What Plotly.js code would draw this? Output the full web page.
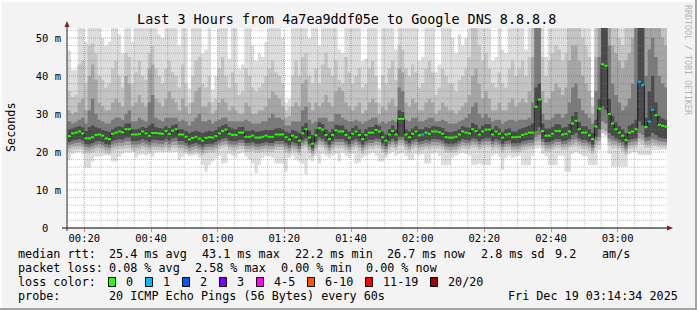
<!DOCTYPE html>
<html><head><meta charset="utf-8">
<script src="https://cdn.plot.ly/plotly-3.0.1.min.js"></script>
<style>html,body{margin:0;padding:0;background:#f3f3f3;}#chart{width:697px;height:310px;}</style>
</head><body><div id="chart"></div>
<script>
// ---- data: one value per minute, 00:15 .. 03:14 (milliseconds) ----
const median = [
24.2,24.9,25.1,25.4,24.9,23.6,23.6,23.9,24.5,24.6,24.3,23.6,23.4,24.8,25.1,25.4,25.2,26.0,26.0,24.6,24.6,24.7,25.4,24.9,24.3,25.0,25.0,24.9,24.8,25.5,24.8,25.6,26.0,24.6,24.6,24.0,23.3,23.7,24.0,23.5,23.0,23.7,23.9,23.8,24.2,
24.9,25.5,25.9,24.8,24.5,24.5,25.1,25.1,24.0,24.0,24.3,23.8,23.8,24.0,24.3,24.0,24.0,24.6,24.6,24.6,23.9,23.3,24.3,23.9,23.0,24.9,26.0,23.8,22.2,24.4,26.3,25.9,24.5,23.4,24.5,25.7,25.4,25.4,24.5,23.8,24.8,25.4,24.5,23.4,24.5,
25.1,25.1,25.8,25.4,23.9,23.0,24.6,25.5,24.6,28.7,28.7,24.6,23.9,24.8,25.4,24.4,24.6,25.1,24.8,25.4,25.4,25.2,24.8,23.9,23.8,23.8,24.0,24.6,25.4,25.1,24.9,26.0,25.5,24.6,25.4,25.9,25.9,24.6,25.4,24.8,23.8,24.6,24.8,23.9,23.9,
24.0,24.5,24.8,25.1,25.1,31.9,33.8,25.5,24.3,24.3,24.8,25.5,25.5,24.6,24.8,25.4,27.5,28.2,26.0,25.1,25.1,24.4,23.4,26.7,31.4,43.1,42.7,30.0,27.5,26.0,25.1,24.3,23.2,25.1,25.4,26.0,38.5,37.6,26.6,28.0,31.1,29.7,27.2,26.9,26.7];
const lossCount = [
0,0,0,0,0,0,0,0,0,0,0,0,0,0,0,0,0,0,0,0,0,0,0,0,0,0,0,0,0,0,0,0,0,0,0,0,0,0,0,0,0,0,0,0,0,
0,0,0,0,0,0,0,0,0,0,0,0,0,0,0,0,0,0,0,0,0,0,0,0,0,0,0,0,0,0,0,0,0,0,0,0,0,0,0,0,0,0,0,0,0,
0,0,0,0,0,0,0,0,0,0,0,0,0,0,0,0,1,0,0,0,0,0,0,0,0,0,0,0,0,0,0,0,0,0,0,0,0,0,0,0,0,0,0,0,0,
0,0,0,0,0,0,0,0,0,0,0,0,0,0,0,0,0,0,0,0,0,0,0,0,0,0,0,0,0,0,0,0,0,0,0,0,1,1,0,1,1,0,0,0,0];
const smokeMax = [
46.8,41.6,41.6,52.6,52.6,49,52.6,52.6,52.6,52.6,50,48,49,52.6,52.6,51,46,52.6,52.6,49,52.6,52.6,52.6,52.6,52.6,52.6,52.6,51,50,52.6,52.6,52.6,52.6,48,52.6,52.6,36.7,52.6,52.6,52.6,46,47,52.6,36.5,40,
52.6,52.6,52.6,44.6,52.6,52.6,42,43,52.6,52.6,48,44,46,45,49,52.6,52.6,52.6,52.6,50,33,34,52.6,52.6,52.6,52.6,52.6,50,52.6,52.6,48,52.6,52.6,52.6,52.6,52.6,47,46,52.6,52.6,52.6,52.6,52.6,44,44.6,
52.6,52.6,52.6,36.7,52.6,52.6,52.6,52.6,47,52.6,52.6,52.6,52.6,52.6,52.6,44,45,52.6,52.6,52.6,41,43,52.6,52.6,52.6,50,46,51,48,50,52.6,52.6,52.6,52.6,52.6,52.6,52.6,44,45,52.6,47,46,52.6,52.6,52.6,
52.6,52.6,47,52.6,52.6,52.6,52.6,52.6,45,52.6,52.6,52.6,52.6,52.6,52.6,52.6,52.6,52.6,52.6,52.6,52.6,52.6,34.5,52.6,52.6,52.6,52.6,52.6,52.6,52.6,52.6,52.6,52.6,52.6,52.6,52.6,52.6,52.6,52.6,52.6,52.6,52.6,52.6,52.6,52.6];
const smokeHi2 = [
36,34.5,35,43,44,38,48,48.6,46,40,39,37,38,42,44,40,37,46,45,38,41,44,40,39,46,48,42,40,38,42,44,41,40,37,43,38,33,40,44,45,38,37,40,33,34,
42,45,40,37,41,38,35,36,42,40,37,36,37,38,40,42,44,41,40,38,31,32,40,44,40,45,46,40,38,42,38,43,46,42,40,44,39,38,45,41,38,40,42,37,38,
42,44,40,33,40,38,42,44,39,48,47,42,40,43,41,37,38,42,44,41,35,37,42,40,38,38,36,39,40,42,45,52.6,52.6,48,44,46,42,38,37,41,38,37,42,44,40,
42,44,40,45,52.6,52.6,52.6,45,40,44,46,48,47,44,46,52.6,52.6,52.6,52.6,50,48,45,32,52.6,52.6,52.6,52.6,52.6,52.6,52.6,50,48,52.6,52.6,52.6,52.6,52.6,52.6,52.6,52.6,52.6,52.6,52.6,52.6,52.6];
const smokeHi3 = [
31,30,30.5,33,34,31,40,43,39,33,32,31,31,33,34,33,32,40,38,32,33,35,33,32,42,43,34,33,32,34,36,34,33,31,34,32,30,33,36,37,32,32,33,30,31,
33,34,33,31,32,31,30,30,33,32,30,30,31,31,32,34,36,35,34,32,29,29.5,32,33,32,38,39,33,31,33,32,33,35,33,32,36,37,36,33,32,31,32,33,30,31,
33,34,33,30,32,31,33,34,32,42,41,33,32,34,33,31,31,33,34,33,30,31,33,32,31,31,30,31,32,33,35,40,42,38,34,36,34,31,31,33,31,31,33,34,32,
33,34,33,36,45,52.6,52.6,36,33,34,36,38,37,35,37,44,48,48,44,40,38,36,30,45,52.6,52.6,52.6,52.6,48,46,44,42,44,46,50,52.6,52.6,52.6,52.6,52.6,52.6,52.6,52.6,50,48];
const smokeHi4 = [
28,27.5,27.8,28.5,29,27.5,31,34,30,28.5,28,27.5,27.5,28.5,29,29,28.5,30,31,28,28,29,28.5,28,33,35,29,28.5,28,29,29,29,29,28,28.5,28,27,28,29,30,28,28,28.5,27.5,28,
28.5,29,29,28,28,28,28,28,28.5,28,27.5,27.5,27.5,28,28,29,30,29,29,28.5,27,27,28,28,28,31,32,28.5,27.5,28,29,29,29,28,28,30,30,29,28.5,28,28,28.5,28,27.5,28,
28.5,29,29,27.5,28,27.5,28,28.5,28,37,36,28.5,28,29,29,28,28,28.5,29,29,28,28,28.5,28,27.5,27.5,27.5,28,28.5,29,30,32,33,30,29,30,29,28,28.5,28.5,27.5,28,28.5,28.5,28,
28.5,28.5,28.5,29,33,52.6,52.6,30,28.5,28.5,29,30,30,29,30,33,37,38,34,31,30,29,27.5,36,45,52.6,52.6,48,38,35,33,31,32,34,38,52.6,52.6,52.6,40,47,50,45,40,38,37];
const smokeHi5 = [
26.0,26.2,26.5,26.8,26.5,25.5,26.5,27.0,26.5,26.3,25.8,25.5,25.3,26.0,26.5,26.8,26.5,27.5,27.5,26.0,26.0,26.2,26.6,26.3,27.0,27.5,26.5,26.3,26.2,26.8,26.3,27.0,27.3,26.0,26.0,25.5,25.0,25.3,25.6,25.3,25.0,25.3,25.6,25.4,25.8,
26.5,27.0,27.3,26.5,26.2,26.0,26.5,26.6,25.6,25.5,25.8,25.3,25.4,25.6,25.8,25.7,25.8,26.2,26.3,26.0,25.3,25.0,25.8,25.5,25.0,26.8,27.6,25.6,24.5,26.0,27.8,27.4,26.0,25.2,26.0,27.2,27.0,27.0,26.0,25.4,26.3,26.9,26.0,25.0,26.0,
26.5,26.6,27.2,26.8,25.4,24.6,26.0,27.0,26.0,31.0,30.5,26.0,25.4,26.2,26.8,26.0,26.0,26.5,26.3,26.8,26.8,26.6,26.3,25.4,25.2,25.3,25.5,26.0,26.8,26.5,26.4,27.6,27.2,26.1,26.9,27.4,27.3,26.0,26.8,26.2,25.2,26.0,26.2,25.4,25.4,
26.0,26.3,26.6,27.0,27.5,37,38,27.5,26.2,26.2,26.6,27.3,27.3,26.4,26.6,27.4,29.5,30.5,27.8,26.8,26.8,26.0,25.0,28.5,34,52.6,52.6,34,29.5,27.8,26.8,26.0,25.0,27.0,27.5,28.5,52.6,52.6,29,36,40,33,29.5,28.8,28.5];
const smokeLo5 = [
22.6,23.0,23.2,23.4,23.0,22.2,22.0,22.3,22.8,22.9,22.6,22.1,21.9,22.9,23.2,23.4,23.3,23.8,23.8,22.9,22.9,23.0,23.4,23.1,22.6,23.2,23.2,23.1,23.0,23.5,23.0,23.6,23.8,22.9,22.9,22.4,21.8,22.1,22.4,22.0,21.5,22.1,22.2,22.2,22.6,
23.1,23.5,23.7,23.0,22.8,22.8,23.2,23.2,22.4,22.4,22.6,22.2,22.2,22.4,22.6,22.4,22.4,22.9,22.9,22.9,22.3,21.8,22.6,22.3,21.6,23.1,23.6,22.2,21.0,22.7,23.8,23.5,22.8,21.9,22.8,23.5,23.4,23.4,22.8,22.2,23.0,23.4,22.8,21.9,22.8,
23.2,23.2,23.6,23.4,22.3,21.6,22.9,23.5,22.9,24.0,24.0,22.9,22.3,23.0,23.4,22.7,22.9,23.2,23.0,23.4,23.4,23.3,23.0,22.3,22.2,22.2,22.4,22.9,23.4,23.2,23.1,23.6,23.5,22.9,23.4,23.6,23.6,22.9,23.4,23.0,22.2,22.9,23.0,22.3,22.3,
22.4,22.8,23.0,23.2,23.2,25.5,26.5,23.4,22.6,22.6,23.0,23.4,23.4,22.9,23.0,23.4,24.5,25.0,23.6,23.2,23.2,22.7,21.9,24.0,26.0,32.0,31.0,25.0,24.3,23.6,23.2,22.6,21.7,23.2,23.4,23.6,28.0,27.0,23.8,24.0,25.0,24.5,23.8,23.6,23.5];
const smokeLo4 = [
21.9,22.2,22.4,22.5,22.2,21.4,21.2,21.5,22.0,22.1,21.8,21.3,21.1,22.0,22.3,22.5,22.4,22.8,22.8,22.0,22.0,22.1,22.5,22.2,21.8,22.3,22.3,22.2,22.1,22.6,22.1,22.7,22.8,22.0,22.0,21.6,21.0,21.3,21.6,21.2,20.7,21.3,21.4,21.4,21.8,
22.3,22.7,22.9,22.2,22.0,22.0,22.4,22.4,21.6,21.6,21.8,21.4,21.4,21.6,21.8,21.6,21.6,22.1,22.1,22.1,21.5,21.0,21.8,21.5,20.8,22.3,22.8,21.4,20.3,21.9,23.0,22.7,22.0,21.1,22.0,22.7,22.6,22.6,22.0,21.4,22.2,22.6,22.0,21.1,22.0,
22.4,22.4,22.8,22.6,21.5,20.8,22.1,22.7,22.1,23.2,23.2,22.1,21.5,22.2,22.6,21.9,22.1,22.4,22.2,22.6,22.6,22.5,22.2,21.5,21.4,21.4,21.6,22.1,22.6,22.4,22.3,22.8,22.7,22.1,22.6,22.8,22.8,22.1,22.6,22.2,21.4,22.1,22.2,21.5,21.5,
21.6,22.0,22.2,22.4,22.4,24.0,24.5,22.6,21.8,21.8,22.2,22.6,22.6,22.1,22.2,22.6,23.2,23.5,22.8,22.4,22.4,21.9,21.1,23.0,24.0,28.0,27.5,23.5,23.0,22.8,22.4,21.8,20.9,22.4,22.6,22.8,25.0,24.5,22.8,23.0,23.5,23.2,22.8,22.7,22.6];
const smokeLo3 = [
21.0,21.4,21.5,21.6,21.3,20.5,20.4,20.7,21.1,21.2,21.0,20.5,20.3,21.1,21.4,21.6,21.5,21.8,21.8,21.1,21.1,21.2,21.6,21.3,21.0,21.4,21.4,21.3,21.2,21.7,21.2,21.8,21.8,21.1,21.1,20.8,20.2,20.5,20.8,20.4,19.9,20.5,20.6,20.6,21.0,
21.5,21.9,22.1,21.4,21.2,21.2,21.6,21.6,20.8,20.8,21.0,20.6,20.6,20.8,21.0,20.8,20.8,21.3,21.3,21.3,20.7,20.2,21.0,20.7,20.0,21.5,22.0,20.6,19.6,21.1,22.2,21.9,21.2,20.3,21.2,21.9,21.8,21.8,21.2,20.6,21.4,21.8,21.2,20.3,21.2,
21.6,21.6,22.0,21.8,20.7,20.0,21.3,21.9,21.3,22.4,22.4,21.3,20.7,21.4,21.8,21.1,21.3,21.6,21.4,21.8,21.8,21.7,21.4,20.7,20.6,20.6,20.8,21.3,21.8,21.6,21.5,22.0,21.9,21.3,21.8,22.0,22.0,21.3,21.8,21.4,20.6,21.3,21.4,20.7,20.7,
20.8,21.2,21.4,21.6,21.6,22.8,23.0,21.8,21.0,21.0,21.4,21.8,21.8,21.3,21.4,21.8,22.2,22.5,22.0,21.6,21.6,21.1,20.3,22.0,22.8,26.0,25.5,22.5,22.0,22.0,21.6,21.0,20.1,21.6,21.8,22.0,23.5,23.0,22.0,22.0,22.5,22.3,22.0,21.9,21.8];
const smokeLo2 = [
20.2,20.6,20.7,20.8,20.5,19.7,19.6,19.9,20.3,20.4,20.2,19.7,19.5,20.3,20.6,20.8,20.7,21.0,21.0,20.3,20.3,20.4,20.8,20.5,20.2,20.6,20.6,20.5,20.4,20.9,20.4,21.0,21.0,20.3,20.3,20.0,19.4,19.7,20.0,19.6,19.1,19.7,19.8,19.8,20.2,
20.7,21.1,21.3,20.6,20.4,20.4,20.8,20.8,20.0,20.0,20.2,19.8,19.8,20.0,20.2,20.0,20.0,20.5,20.5,20.5,19.9,19.4,20.2,19.9,19.2,20.7,21.2,19.8,18.8,20.3,21.4,21.1,20.4,19.5,20.4,21.1,21.0,21.0,20.4,19.8,20.6,21.0,20.4,19.5,20.4,
20.8,20.8,21.2,21.0,19.9,19.2,20.5,21.1,20.5,21.6,21.6,20.5,19.9,20.6,21.0,20.3,20.5,20.8,20.6,21.0,21.0,20.9,20.6,19.9,19.8,19.8,20.0,20.5,21.0,20.8,20.7,21.2,21.1,20.5,21.0,21.2,21.2,20.5,21.0,20.6,19.8,20.5,20.6,19.9,19.9,
20.0,20.4,20.6,20.8,20.8,21.8,22.0,21.0,20.2,20.2,20.6,21.0,21.0,20.5,20.6,21.0,21.3,21.6,21.2,20.8,20.8,20.3,19.5,21.0,21.8,25.0,24.5,21.5,21.0,21.2,20.8,20.2,19.3,20.8,21.0,21.2,22.5,22.0,21.2,21.2,21.6,21.5,21.3,21.2,21.1];
const smokeMin = [
18.0,19.5,19.8,20.0,19.5,16.0,15.7,17.5,18.8,18.8,19.0,19.2,19.0,17.5,17.5,18.8,19.5,20.0,19.8,20.0,18.5,19.2,19.4,19.0,19.5,18.8,19.8,20.0,19.8,20.0,19.8,20.0,20.0,17.9,18.8,19.5,19.0,19.0,19.2,18.5,16.6,14.8,16.6,17.5,18.3,
19.0,17.0,17.2,19.5,19.0,18.5,19.5,19.8,18.8,18.0,17.0,14.4,16.5,18.5,19.0,18.8,18.5,17.0,17.0,17.0,14.8,18.5,19.0,18.0,17.5,17.0,14.0,18.0,17.5,19.0,17.0,19.5,19.0,18.5,19.0,19.5,17.5,19.8,19.0,18.5,19.5,17.0,17.2,18.5,19.0,
19.5,19.8,19.0,17.5,17.5,18.5,19.5,20.0,19.0,19.5,19.8,19.0,17.9,17.9,19.5,19.0,19.5,17.0,17.0,19.5,19.8,19.0,16.6,16.6,16.6,18.5,19.0,19.5,19.8,19.5,19.0,16.6,16.6,17.0,16.6,16.6,16.6,19.0,19.5,18.8,15.3,18.5,19.0,18.5,18.8,
19.0,16.6,16.6,16.6,19.0,21.0,21.0,19.5,19.0,16.6,16.6,16.6,19.0,19.0,14.8,14.8,19.5,20.0,19.5,19.0,19.0,16.6,16.6,16.6,20.5,24.8,24.2,19.5,16.1,16.1,16.1,16.1,16.1,19.5,20.0,20.0,19.2,19.2,19.2,19.2,20.5,20.5,20.5,20.6,20.6];

const yTickVals = [0, 10, 20, 30, 40, 50];
const yTickText = ['0\u00a0\u00a0', '10 m', '20 m', '30 m', '40 m', '50 m'];
const lossClasses = ['0', '1', '2', '3', '4-5', '6-10', '11-19', '20/20'];
const lossClassColors = ['#26ff00', '#00b8ff', '#0059ff', '#7e00ff', '#ff00ff', '#ff5500', '#ff0000', '#a10000'];

const titleText = 'Last 3 Hours from 4a7ea9ddf05e to Google DNS 8.8.8.8';
const statRows = [
  {y: 254.3, parts: [[16,'median rtt:'],[107.3,'25.4 ms avg'],[200,'43.1 ms max'],[292.5,'22.2 ms min'],[385,'26.7 ms now'],[479.3,'2.8 ms sd'],[553.3,'9.2'],[600,'am/s']]},
  {y: 268.3, parts: [[16,'packet loss:'],[107.3,'0.08 % avg'],[193.3,'2.58 % max'],[278.5,'0.00 % min'],[363.5,'0.00 % now']]},
  {y: 282.3, parts: [[16,'loss color:']]},
  {y: 296.2, parts: [[16,'probe:'],[107.3,'20 ICMP Echo Pings (56 Bytes) every 60s']]}
];
const stampText = 'Fri Dec 19 03:14:34 2025';

// ---- build ----
const MONO = 'DejaVu Sans Mono, monospace';
const T_START = Date.UTC(2025, 11, 19, 0, 15, 0);
const STEP = 60000;
const n = median.length;
const xs = [];
for (let i = 0; i <= n; i++) xs.push(T_START + i * STEP);
const ext = a => a.concat([a[a.length - 1]]);

const traces = [];
const bands = [
  [smokeMin, smokeMax, '#dddddd'],
  [smokeLo2, smokeHi2, '#c4c4c4'],
  [smokeLo3, smokeHi3, '#a5a5a5'],
  [smokeLo4, smokeHi4, '#7b7b7b'],
  [smokeLo5, smokeHi5, '#4a4a4a']
];
bands.forEach(([lo, hi, col]) => {
  traces.push({x: xs, y: ext(lo), type: 'scatter', mode: 'lines', line: {width: 0, shape: 'hv'}, hoverinfo: 'skip', showlegend: false});
  traces.push({x: xs, y: ext(hi), type: 'scatter', mode: 'lines', fill: 'tonexty', fillcolor: col, line: {width: 0, shape: 'hv'}, hoverinfo: 'skip', showlegend: false});
});
traces.push({x: xs, y: ext(median), type: 'scatter', mode: 'lines', line: {color: '#1a1a1a', width: 1, shape: 'hv'}, hoverinfo: 'skip', showlegend: false});
const segs = {};
for (let i = 0; i < n; i++) {
  const c = lossCount[i];
  if (!segs[c]) segs[c] = {x: [], y: []};
  segs[c].x.push(xs[i], xs[i + 1], null);
  segs[c].y.push(median[i], median[i], null);
}
Object.keys(segs).forEach(c => {
  traces.push({x: segs[c].x, y: segs[c].y, type: 'scatter', mode: 'lines', line: {color: lossClassColors[+c], width: 2}, hoverinfo: 'skip', showlegend: false, connectgaps: false});
});

// pixel helpers for layout decorations
const L = 67, T = 28, W = 600, H = 200;
const px = x => (x - L) / W;
const py = y => (T + H - y) / H;

const shapes = [];
const R0 = Date.UTC(2025, 11, 19, 0, 14, 48), R1 = Date.UTC(2025, 11, 19, 3, 14, 48);
for (let t = Date.UTC(2025, 11, 19, 0, 15, 0); t < R1; t += 300000) {
  const major = ((t / 60000) % 20) === 0;
  shapes.push({type: 'line', xref: 'x', yref: 'paper', x0: t, x1: t, y0: 0, y1: 1,
    line: {color: major ? 'rgba(255,0,0,0.45)' : 'rgba(120,120,120,0.45)', width: 1, dash: '1px,1px'}, layer: 'above'});
}
for (let v = 2; v <= 52; v += 2) {
  const major = v % 10 === 0;
  shapes.push({type: 'line', xref: 'paper', yref: 'y', x0: 0, x1: 1, y0: v, y1: v,
    line: {color: major ? 'rgba(255,0,0,0.45)' : 'rgba(120,120,120,0.45)', width: 1, dash: '1px,1px'}, layer: 'above'});
}
shapes.push({type: 'line', xref: 'paper', yref: 'paper', x0: px(62), x1: px(668), y0: py(228), y1: py(228), line: {color: '#000', width: 1}});
shapes.push({type: 'line', xref: 'paper', yref: 'paper', x0: px(67), x1: px(67), y0: py(231), y1: py(25), line: {color: '#333', width: 1}});
shapes.push({type: 'path', xref: 'paper', yref: 'paper', path: `M ${px(667)} ${py(225.5)} L ${px(673)} ${py(228)} L ${px(667)} ${py(230.5)} Z`, fillcolor: '#8b1a1a', line: {width: 0}});
shapes.push({type: 'path', xref: 'paper', yref: 'paper', path: `M ${px(64.5)} ${py(27)} L ${px(67)} ${py(21)} L ${px(69.5)} ${py(27)} Z`, fillcolor: '#8b1a1a', line: {width: 0}});
shapes.push({type: 'rect', xref: 'paper', yref: 'paper', x0: px(0), x1: px(697), y0: py(0), y1: py(2), fillcolor: '#fdfdfd', line: {width: 0}});
shapes.push({type: 'rect', xref: 'paper', yref: 'paper', x0: px(0), x1: px(2), y0: py(0), y1: py(310), fillcolor: '#fdfdfd', line: {width: 0}});
shapes.push({type: 'rect', xref: 'paper', yref: 'paper', x0: px(0), x1: px(697), y0: py(308), y1: py(310), fillcolor: '#a3a3a3', line: {width: 0}});
shapes.push({type: 'rect', xref: 'paper', yref: 'paper', x0: px(695), x1: px(697), y0: py(0), y1: py(310), fillcolor: '#a3a3a3', line: {width: 0}});

const annotations = [];
const txt = (x, y, s, opt) => annotations.push(Object.assign({xref: 'paper', yref: 'paper', x: px(x), y: py(y), text: s, showarrow: false,
  xanchor: 'left', yanchor: 'middle', font: {family: MONO, size: 11.75, color: '#000'}}, opt || {}));
statRows.forEach(r => r.parts.forEach(p => txt(p[0], r.y, p[1])));
txt(680, 296.2, stampText, {xanchor: 'right'});
const boxX = [108.5, 145.5, 182.5, 219.5, 256.5, 307.5, 365.5, 430.5];
lossClasses.forEach((lab, k) => {
  shapes.push({type: 'rect', xref: 'paper', yref: 'paper', x0: px(boxX[k]), x1: px(boxX[k] + 7), y0: py(277.5), y1: py(286.5),
    fillcolor: lossClassColors[k], line: {color: '#000', width: 1}});
  txt(boxX[k] + 15, 282.3, lab);
});
txt(11, 127, 'Seconds', {xanchor: 'center', textangle: -90, font: {family: MONO, size: 11.75, color: '#000'}});
txt(688, 60, 'RRDTOOL / TOBI OETIKER', {xanchor: 'center', textangle: 90, font: {family: MONO, size: 8.3, color: '#b4b4b4'}});

const layout = {
  width: 697, height: 310,
  margin: {l: L, r: 697 - L - W, t: T, b: 310 - T - H, pad: 0},
  paper_bgcolor: '#f3f3f3', plot_bgcolor: '#ffffff',
  showlegend: false,
  title: {text: titleText, font: {family: MONO, size: 13.4, color: '#000'}, xref: 'container', yref: 'container',
    x: 346.7 / 697, xanchor: 'center', y: 1 - 19.3 / 310, yanchor: 'middle'},
  xaxis: {type: 'date', range: [R0, R1], tick0: '2025-12-19 00:00:00', dtick: 1200000, tickformat: '%H:%M',
    showgrid: false, zeroline: false, showline: false, ticks: 'outside', ticklen: 3, tickcolor: 'rgba(255,0,0,0.5)',
    ticklabelstandoff: -3,
    tickfont: {family: MONO, size: 10.5, color: '#000'}, fixedrange: true, automargin: false},
  yaxis: {range: [0, 52.63], tickmode: 'array', tickvals: yTickVals, ticktext: yTickText,
    showgrid: false, zeroline: false, showline: false, ticks: '', ticklabelstandoff: 5,
    tickfont: {family: MONO, size: 10.5, color: '#000'}, fixedrange: true, automargin: false},
  shapes: shapes, annotations: annotations
};
Plotly.newPlot('chart', traces, layout, {staticPlot: true, displayModeBar: false});
</script></body></html>
